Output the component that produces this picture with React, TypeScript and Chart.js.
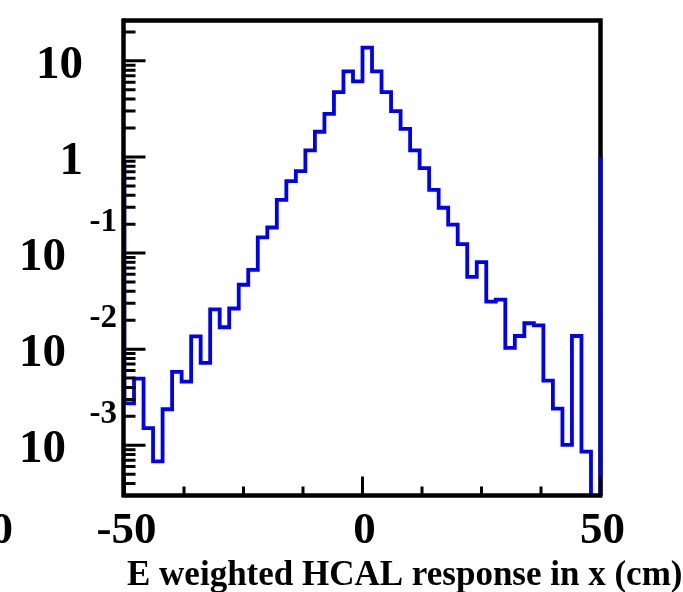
import React, { useEffect, useRef } from "react";
import { Chart, registerables } from "chart.js";

Chart.register(...registerables);

// ---- data ----
const xMin = -50;
const xMax = 50;
const binWidth = 2;
// bin contents (50 bins of 2 cm from -50 to 50); null = empty bin
const binValues: (number | null)[] = [
  0.00273, 0.00494, 0.00151, 0.00068, 0.00237, 0.0058, 0.0046, 0.0136, 0.0072, 0.0259,
  0.0169, 0.0265, 0.0468, 0.0667, 0.1455, 0.1845, 0.358, 0.561, 0.711, 1.17,
  1.83, 2.81, 4.72, 7.76, 6.13, 13.7, 7.76, 4.72, 3.0, 1.96,
  1.17, 0.764, 0.454, 0.296, 0.198, 0.124, 0.0566, 0.0806, 0.0313, 0.0328,
  0.0103, 0.0137, 0.0186, 0.0177, 0.0047, 0.0024, 0.00101, 0.0137, 0.00086, null,
];
// outline edges at the histogram limits
const edgeLeftTop = 0.9;
const edgeRightTop = 1.0;

const yMin = 3.4e-4;
const yMax = 26.3;

const yMajorTicks = [1e-3, 1e-2, 1e-1, 1, 10];
const yTickBase = ["10", "10", "10", "1", "10"];
const yTickExp = ["-3", "-2", "-1", "", ""];
const yMinorMultipliers = [2, 3, 4, 5, 6, 7, 8, 9];

const xMajorTicks = [-50, 0, 50];
const xTickLabels = ["-50", "0", "50"];
const xMinorTicks = [-37.5, -25, -12.5, 12.5, 25, 37.5];

const xTitle = "E weighted HCAL response in x (cm)";
const neighbourLabel = "0";

const FONT = '"Liberation Serif", "Times New Roman", serif';
const BLUE = "#0000f0";

function buildPoints() {
  const pts: { x: number; y: number }[] = [];
  pts.push({ x: xMin, y: edgeLeftTop });
  binValues.forEach((v, i) => {
    pts.push({ x: xMin + i * binWidth, y: v === null ? yMin / 100 : v });
  });
  pts.push({ x: xMax, y: edgeRightTop });
  return pts;
}

const rootStyle = {
  id: "rootStyle",
  beforeDraw(chart: any) {
    const { ctx, width, height } = chart;
    ctx.save();
    ctx.fillStyle = "#ffffff";
    ctx.fillRect(0, 0, width, height);
    ctx.restore();
  },
  beforeDatasetsDraw(chart: any) {
    const { ctx, chartArea } = chart;
    const { left, right, top, bottom } = chartArea;
    ctx.save();
    ctx.strokeStyle = "#000";
    ctx.lineWidth = 4.5;
    ctx.beginPath();
    ctx.moveTo(left - 2, top);
    ctx.lineTo(right + 2.2, top);
    ctx.moveTo(right, top);
    ctx.lineTo(right, bottom);
    ctx.stroke();
    ctx.restore();
  },
  afterDatasetsDraw(chart: any) {
    const { ctx, chartArea, scales } = chart;
    const { left, right, top, bottom } = chartArea;
    const xs = scales.x;
    const ys = scales.y;
    ctx.save();
    ctx.strokeStyle = "#000";
    ctx.lineWidth = 4.5;
    ctx.beginPath();
    ctx.moveTo(left - 1, top - 2);
    ctx.lineTo(left - 1, bottom + 2);
    ctx.moveTo(left - 2, bottom);
    ctx.lineTo(right + 2, bottom);
    ctx.stroke();

    // y ticks
    ctx.lineWidth = 3;
    ctx.beginPath();
    const d0 = Math.floor(Math.log10(yMin));
    const d1 = Math.ceil(Math.log10(yMax));
    for (let d = d0; d <= d1; d++) {
      const dec = Math.pow(10, d);
      [1, ...yMinorMultipliers].forEach((m) => {
        const v = m * dec;
        if (v < yMin || v > yMax) return;
        const y = ys.getPixelForValue(v);
        const len = m === 1 ? 21 : 11;
        ctx.moveTo(left, y);
        ctx.lineTo(left + len, y);
      });
    }
    // x ticks
    xMajorTicks.forEach((v) => {
      const x = xs.getPixelForValue(v);
      ctx.moveTo(x, bottom);
      ctx.lineTo(x, bottom - 19);
    });
    xMinorTicks.forEach((v) => {
      const x = xs.getPixelForValue(v);
      ctx.moveTo(x, bottom);
      ctx.lineTo(x, bottom - 9);
    });
    ctx.stroke();

    // y labels
    ctx.fillStyle = "#000";
    ctx.textAlign = "right";
    ctx.textBaseline = "alphabetic";
    yMajorTicks.forEach((v, i) => {
      const y = ys.getPixelForValue(v);
      if (yTickExp[i]) {
        ctx.font = `bold 47px ${FONT}`;
        ctx.fillText(yTickBase[i], 66, y + 17);
        ctx.font = `bold 33px ${FONT}`;
        ctx.fillText(yTickExp[i], 117, y - 22);
      } else {
        ctx.font = `bold 47px ${FONT}`;
        ctx.fillText(yTickBase[i], 83, y + 17);
      }
    });

    // x labels
    ctx.font = `bold 45px ${FONT}`;
    ctx.textAlign = "center";
    xMajorTicks.forEach((v, i) => {
      const x = xs.getPixelForValue(v);
      ctx.fillText(xTickLabels[i], x + 2, 543);
    });
    ctx.textAlign = "right";
    ctx.fillText(neighbourLabel, 13, 543);

    // title
    ctx.font = `bold 35px ${FONT}`;
    ctx.textAlign = "left";
    ctx.fillText(xTitle, 127, 585);
    ctx.restore();
  },
};

export default function App() {
  const ref = useRef<HTMLCanvasElement | null>(null);
  useEffect(() => {
    if (!ref.current) return;
    const chart = new Chart(ref.current, {
      type: "line",
      data: {
        datasets: [
          {
            data: buildPoints(),
            stepped: "before",
            borderColor: BLUE,
            borderWidth: 3.8,
            pointRadius: 0,
            fill: false,
            borderJoinStyle: "miter",
            borderCapStyle: "butt",
            clip: { left: 4, right: 4, top: 0, bottom: 0 },
          } as any,
        ],
      },
      options: {
        animation: false,
        responsive: false,
        devicePixelRatio: 1,
        parsing: false,
        layout: { padding: { left: 124.5, right: 82.5, top: 20.5, bottom: 96.5 } },
        plugins: { legend: { display: false }, tooltip: { enabled: false } },
        scales: {
          x: { type: "linear", min: xMin, max: xMax, display: false },
          y: { type: "logarithmic", min: yMin, max: yMax, display: false },
        },
      },
      plugins: [rootStyle],
    });
    return () => chart.destroy();
  }, []);
  return (
    <div style={{ position: "absolute", left: 0, top: 0, width: 683, height: 592 }}>
      <canvas ref={ref} width={683} height={592} style={{ width: 683, height: 592, display: "block" }} />
    </div>
  );
}
